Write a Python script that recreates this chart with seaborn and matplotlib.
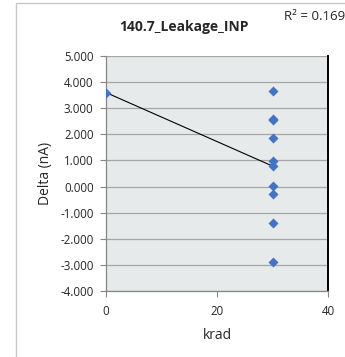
import numpy as np
import pandas as pd
import matplotlib
matplotlib.use('Agg')
import matplotlib.pyplot as plt
import seaborn as sns
from matplotlib.patches import Rectangle

# data
krad = [0, 30, 30, 30, 30, 30, 30, 30, 30, 30, 30]
delta = [3.60, 3.65, 2.60, 2.54, 1.87, 0.96, 0.77, 0.03, -0.28, -1.41, -2.88]
y_ticks = [-4, -3, -2, -1, 0, 1, 2, 3, 4, 5]
x_ticks = [0, 20, 40]
title = "140.7_Leakage_INP"
r2_text = "R² = 0.169"

df = pd.DataFrame({'krad': krad, 'delta': delta})

sns.set_style('white')
plt.rcParams['font.family'] = ['Open Sans', 'DejaVu Sans']

fig = plt.figure(figsize=(3.45, 3.57), dpi=100)
fig.patch.set_facecolor('white')

# chart area border (extends beyond image at right/bottom)
fig.patches.append(Rectangle((16 / 345, -0.1), 1.0, 1 - 3 / 357 + 0.1,
                             transform=fig.transFigure, fill=False,
                             edgecolor='#c8c8c8', lw=1.0))

ax = fig.add_axes([106 / 345, 1 - 291 / 357, (328 - 106) / 345, (291 - 56) / 357])
ax.set_facecolor('#e6eaea')

sns.regplot(data=df, x='krad', y='delta', ax=ax, scatter=False, ci=None,
            color='black', line_kws={'lw': 0.8})
sns.scatterplot(data=df, x='krad', y='delta', ax=ax, marker='D', s=26,
                color='#4472c4', edgecolor='#4472c4', linewidth=0, zorder=5)

ax.set_xlim(0, 40)
ax.set_ylim(-4, 5)
ax.set_yticks(y_ticks)
ax.set_yticklabels([f"{v:.3f}" for v in y_ticks])
ax.set_xticks(x_ticks)
ax.set_xticklabels([str(v) for v in x_ticks])
ax.grid(axis='y', color='#a6a6a6', lw=0.9)
ax.set_axisbelow(True)
ax.tick_params(axis='both', direction='out', length=4, width=0.8,
               color='#868686', labelsize=8.3, left=True, bottom=True)
ax.tick_params(axis='y', pad=5)
ax.tick_params(axis='x', pad=6)

for s in ['left', 'bottom']:
    ax.spines[s].set_color('#868686')
    ax.spines[s].set_linewidth(0.9)
ax.spines['top'].set_visible(False)
ax.spines['right'].set_color('black')
ax.spines['right'].set_linewidth(1.4)

ax.set_xlabel('krad', fontsize=10, labelpad=7)
ax.set_ylabel('Delta (nA)', fontsize=10, labelpad=5)

fig.text(184 / 345, 1 - 27 / 357, title, fontsize=10, fontweight='bold',
         ha='center', va='center')
fig.text(284 / 345, 1 - 16 / 357, r2_text, fontsize=9.5, ha='left', va='center')

fig.savefig('out.png', dpi=100)
